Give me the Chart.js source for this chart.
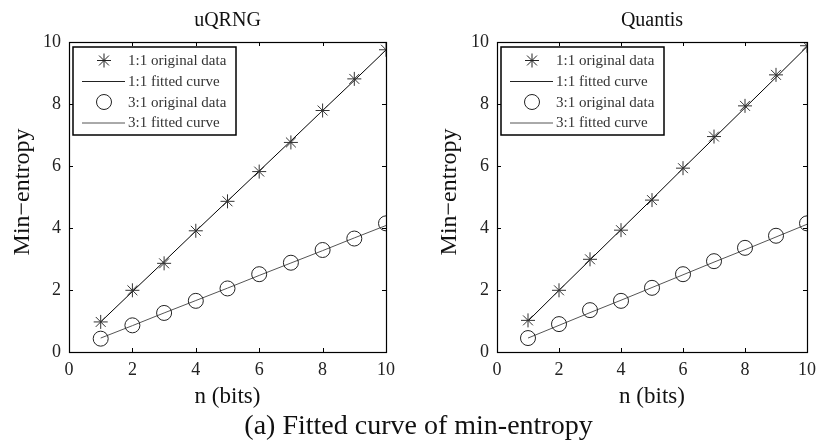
<!DOCTYPE html>
<html>
<head>
<meta charset="utf-8">
<script src="https://cdn.jsdelivr.net/npm/chart.js@4.4.1/dist/chart.umd.min.js"></script>
<style>
  body { margin: 0; background: #fff; width: 823px; height: 447px; position: relative; overflow: hidden; }
  .box { position: absolute; top: 0; height: 447px; }
  #caption { position: absolute; left: 0; width: 837px; top: 409px; text-align: center;
             font: 28px "Liberation Serif", serif; color: #111; }
</style>
</head>
<body>
<div class="box" style="left:0;width:411px"><canvas id="left"></canvas></div>
<div class="box" style="left:411px;width:412px"><canvas id="right"></canvas></div>
<div id="caption">(a) Fitted curve of min-entropy</div>
<script>
// n (bits) on the x axis
const nBits = [1, 2, 3, 4, 5, 6, 7, 8, 9, 10];
const xTicks = [0, 2, 4, 6, 8, 10];
const yTicks = [0, 2, 4, 6, 8, 10];

// uQRNG
const uqrng11 = [0.97, 1.99, 2.86, 3.91, 4.86, 5.82, 6.76, 7.79, 8.81, 9.75];
const uqrng11Fit = [0.97, 1.95, 2.92, 3.9, 4.87, 5.84, 6.81, 7.79, 8.76, 9.74];
const uqrng31 = [0.43, 0.86, 1.26, 1.65, 2.05, 2.51, 2.88, 3.29, 3.66, 4.15];
const uqrng31Fit = [0.45, 0.85, 1.26, 1.66, 2.06, 2.47, 2.87, 3.27, 3.68, 4.08];

// Quantis
const quantis11 = [1.02, 1.99, 2.99, 3.93, 4.9, 5.93, 6.95, 7.94, 8.94, 9.88];
const quantis11Fit = [1.0, 1.99, 2.97, 3.95, 4.93, 5.92, 6.9, 7.88, 8.86, 9.85];
const quantis31 = [0.45, 0.9, 1.35, 1.65, 2.07, 2.51, 2.93, 3.36, 3.75, 4.15];
const quantis31Fit = [0.45, 0.86, 1.27, 1.67, 2.08, 2.49, 2.9, 3.3, 3.71, 4.12];

const legendLabels = ['1:1 original data', '1:1 fitted curve', '3:1 original data', '3:1 fitted curve'];

const serif = '"Liberation Serif", "Times New Roman", serif';
const pts = ys => nBits.map((x, i) => ({ x: x, y: ys[i] }));

function drawStar(ctx, x, y, r) {
  ctx.beginPath();
  ctx.moveTo(x - r, y); ctx.lineTo(x + r, y);
  ctx.moveTo(x, y - r); ctx.lineTo(x, y + r);
  const d = r * 0.7071;
  ctx.moveTo(x - d, y - d); ctx.lineTo(x + d, y + d);
  ctx.moveTo(x - d, y + d); ctx.lineTo(x + d, y - d);
  ctx.stroke();
}

// box, inward ticks, title, y label, x label, legend
const decor = {
  id: 'decor',
  afterDraw(chart, args, o) {
    const ctx = chart.ctx, a = chart.chartArea;
    const xs = chart.scales.x, ys = chart.scales.y;
    ctx.save();
    ctx.strokeStyle = '#000';
    ctx.lineWidth = 1.2;
    ctx.strokeRect(a.left + 0.5, a.top + 0.5, a.right - a.left, a.bottom - a.top);
    ctx.lineWidth = 1;
    ctx.beginPath();
    xTicks.slice(1, -1).forEach(v => {
      const px = Math.round(xs.getPixelForValue(v)) + 0.5;
      ctx.moveTo(px, a.bottom); ctx.lineTo(px, a.bottom - 4);
      ctx.moveTo(px, a.top); ctx.lineTo(px, a.top + 4);
    });
    yTicks.slice(1, -1).forEach(v => {
      const py = Math.round(ys.getPixelForValue(v)) + 0.5;
      ctx.moveTo(a.left, py); ctx.lineTo(a.left + 4, py);
      ctx.moveTo(a.right, py); ctx.lineTo(a.right - 4, py);
    });
    ctx.stroke();

    ctx.fillStyle = '#111';
    ctx.textAlign = 'center';
    ctx.textBaseline = 'alphabetic';
    ctx.font = '20px ' + serif;
    ctx.fillText(o.title, (a.left + a.right) / 2, 26);
    ctx.font = '23px ' + serif;
    ctx.fillText('n (bits)', (a.left + a.right) / 2, 403);
    ctx.font = '24px ' + serif;
    ctx.save();
    ctx.translate(o.ylabelX, 192);
    ctx.rotate(-Math.PI / 2);
    ctx.fillText('Min\u2212entropy', 0, 0);
    ctx.restore();

    // legend
    const bx = a.left + 4, by = a.top + 5, bw = 163, bh = 88;
    ctx.fillStyle = '#fff';
    ctx.fillRect(bx, by, bw, bh);
    ctx.lineWidth = 1.5;
    ctx.strokeStyle = '#000';
    ctx.strokeRect(bx, by, bw, bh);
    const rows = [13.5, 34, 55, 75.5];
    ctx.font = '15px ' + serif;
    ctx.textAlign = 'left';
    ctx.textBaseline = 'middle';
    rows.forEach((ry, i) => {
      const y = by + ry;
      ctx.strokeStyle = i === 3 ? '#555' : '#222';
      ctx.lineWidth = 1;
      if (i === 0) drawStar(ctx, bx + 31, y, 7);
      if (i === 2) { ctx.beginPath(); ctx.arc(bx + 31, y, 7.5, 0, Math.PI * 2); ctx.stroke(); }
      if (i === 1 || i === 3) {
        ctx.beginPath(); ctx.moveTo(bx + 9, y + 0.5); ctx.lineTo(bx + 52, y + 0.5); ctx.stroke();
      }
      ctx.fillStyle = '#333';
      ctx.fillText(legendLabels[i], bx + 55, y + 1);
    });
    ctx.restore();
  }
};

function makeChart(id, title, d11, f11, d31, f31, yW, padRight, ylabelX) {
  return new Chart(document.getElementById(id), {
    type: 'line',
    data: {
      datasets: [
        { label: legendLabels[0], data: pts(d11), showLine: false, pointStyle: 'star',
          pointRadius: 7, pointBorderColor: '#333', pointBorderWidth: 1, borderColor: '#333' },
        { label: legendLabels[1], data: pts(f11), pointRadius: 0, borderColor: '#000', borderWidth: 1 },
        { label: legendLabels[2], data: pts(d31), showLine: false, pointStyle: 'circle',
          pointRadius: 7.5, pointBorderColor: '#222', pointBackgroundColor: 'rgba(0,0,0,0)',
          pointBorderWidth: 1, borderColor: '#222' },
        { label: legendLabels[3], data: pts(f31), pointRadius: 0, borderColor: '#555', borderWidth: 1 }
      ]
    },
    options: {
      responsive: true,
      maintainAspectRatio: false,
      animation: false,
      layout: { autoPadding: false, padding: { top: 42, right: padRight, bottom: 42, left: 0 } },
      plugins: { legend: { display: false }, tooltip: { enabled: false }, decor: { title: title, ylabelX: ylabelX } },
      scales: {
        x: { type: 'linear', min: 0, max: 10,
             ticks: { stepSize: 2, padding: 7, color: '#222', font: { family: serif, size: 18 } },
             grid: { display: false, drawTicks: false }, border: { display: false },
             afterFit: s => { s.height = 53; } },
        y: { type: 'linear', min: 0, max: 10,
             ticks: { stepSize: 2, padding: 8, color: '#222', font: { family: serif, size: 18 } },
             grid: { display: false, drawTicks: false }, border: { display: false },
             afterFit: s => { s.width = yW; } }
      }
    },
    plugins: [decor]
  });
}

makeChart('left', 'uQRNG', uqrng11, uqrng11Fit, uqrng31, uqrng31Fit, 69, 25, 29);
makeChart('right', 'Quantis', quantis11, quantis11Fit, quantis31, quantis31Fit, 86, 9, 45);
</script>
</body>
</html>
